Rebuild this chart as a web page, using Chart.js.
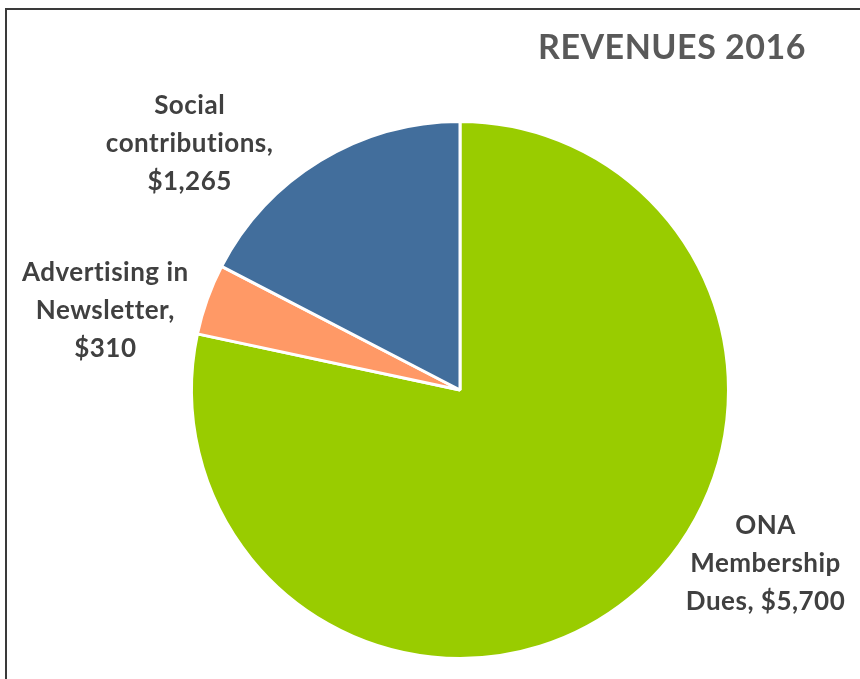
<!DOCTYPE html>
<html>
<head>
<meta charset="utf-8">
<script src="https://cdn.jsdelivr.net/npm/chart.js@4.4.0/dist/chart.umd.min.js"></script>
<style>
    html, body { margin: 0; padding: 0; background: #fff; }
    #wrap { position: relative; width: 860px; height: 679px; overflow: hidden; }
    #frame { position: absolute; left: 5px; top: 8px; right: -10px; bottom: -10px;
             border-left: 2px solid #3a3a3a; border-top: 2px solid #3a3a3a; }
    canvas { position: absolute; left: 0; top: 0; }
</style>
</head>
<body>
<div id="wrap">
    <div id="frame"></div>
    <canvas id="revenueChart" width="860" height="679"></canvas>
</div>
<script>
// data
const categories = ["ONA Membership Dues", "Advertising in Newsletter", "Social contributions"];
const revenues = [5700, 310, 1265];
const sliceColors = ["#99CC00", "#FF9966", "#426E9C"];
// how each data label wraps in the picture
const labelLines = [
    ["ONA", "Membership", "Dues, $5,700"],
    ["Advertising in", "Newsletter,", "$310"],
    ["Social", "contributions,", "$1,265"]
];

// label centre relative to pie centre, in units of radius
const labelPos = [[1.138, 0.646], [-1.321, -0.295], [-1.007, -0.918]];

const pieLabels = {
    id: "pieLabels",
    afterDraw(chart) {
        const ctx = chart.ctx;
        const arcs = chart.getDatasetMeta(0).data;
        ctx.save();
        ctx.fillStyle = "#404040";
        ctx.font = "bold 26px Lato";
        ctx.letterSpacing = "0.5px";
        ctx.textAlign = "center";
        ctx.textBaseline = "middle";
        arcs.forEach((arc, i) => {
            const r = arc.outerRadius;
            const cx = arc.x + labelPos[i][0] * r;
            const cy = arc.y + labelPos[i][1] * r;
            const lines = labelLines[i];
            const lh = 38;
            lines.forEach((t, j) => {
                ctx.fillText(t, cx, cy + (j - (lines.length - 1) / 2) * lh);
            });
        });
        // title
        ctx.fillStyle = "#595959";
        ctx.font = "bold 34px Lato";
        ctx.fillText("REVENUES 2016", 672, 48);
        ctx.restore();
    }
};

const ctx = document.getElementById("revenueChart").getContext("2d");
new Chart(ctx, {
    type: "pie",
    data: {
        labels: categories,
        datasets: [{
            data: revenues,
            backgroundColor: sliceColors,
            borderColor: "#ffffff",
            borderWidth: 3
        }]
    },
    options: {
        responsive: false,
        animation: false,
        layout: { padding: { top: 120, bottom: 19, left: 190, right: 130 } },
        plugins: {
            legend: { display: false },
            tooltip: { enabled: false },
            title: { display: false }
        }
    },
    plugins: [pieLabels]
});
</script>
</body>
</html>
